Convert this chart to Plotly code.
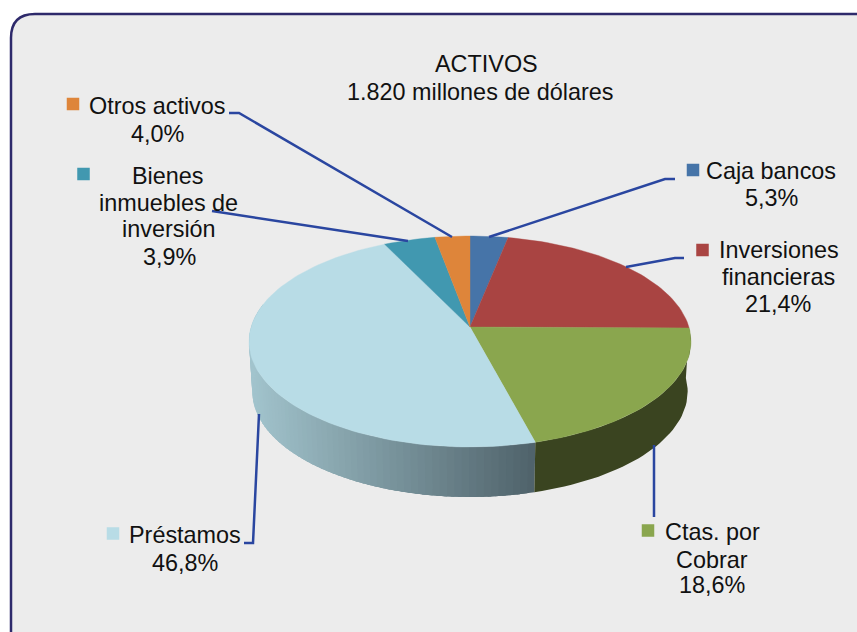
import math
import plotly.graph_objects as go

# ---- data ----
categories = ["Caja bancos", "Inversiones financieras", "Ctas. por Cobrar",
              "Préstamos", "Bienes inmuebles de inversión", "Otros activos"]
values = [5.3, 21.4, 18.6, 46.8, 3.9, 4.0]
top_colors = ["#4674a8", "#a94442", "#8aa64e", "#b8dce6", "#4198b0", "#de853a"]
title_lines = ["ACTIVOS", "1.820 millones de dólares"]

# ---- pie projection (tilted disc with perspective) ----
CX, CY, RX, RY, K = 470, 327, 218.9, 103.5, 0.1375
DEPTH, BOTTOM_SCALE = 50, 0.985
# the reference's drawing squeezes the angles a little: nominal -> drawn (degrees)
WARP_IN = [0, 19.08, 96.12, 163.08, 331.56, 345.6, 360]
WARP_OUT = [0, 11.4, 90.5, 165, 334, 349.5, 360]


def warp(deg):
    for i in range(len(WARP_IN) - 1):
        if deg <= WARP_IN[i + 1]:
            f = (deg - WARP_IN[i]) / (WARP_IN[i + 1] - WARP_IN[i])
            return WARP_OUT[i] + f * (WARP_OUT[i + 1] - WARP_OUT[i])
    return deg


def project(pct, bottom=False):
    theta = math.radians(warp(pct * 3.6))
    u, v = math.sin(theta), -math.cos(theta)
    s = 1 / (1 - K * v)
    x, y = RX * u * s, RY * v * s
    if bottom:
        return CX + x * BOTTOM_SCALE, CY + y + DEPTH
    return CX + x, CY + y


def arc(a0, a1, bottom=False):
    n = max(2, int(abs(a1 - a0) * 2.2))
    return [project(a0 + (a1 - a0) * i / n, bottom) for i in range(n + 1)]


def poly(pts, color, lw=0.0):
    xs = [p[0] for p in pts] + [pts[0][0]]
    ys = [p[1] for p in pts] + [pts[0][1]]
    return go.Scatter(x=xs, y=ys, mode="lines", fill="toself", fillcolor=color,
                      line=dict(color=color, width=lw), hoverinfo="skip", showlegend=False)


fig = go.Figure()

starts, acc = [], 0.0
for v in values:
    starts.append(acc)
    acc += v

# side walls
ctas, prest = 2, 3
LIGHT, DARK = (162, 196, 205), (79, 98, 106)
a0, a1 = starts[prest], 78.0
BANDS = 70
for i in range(BANDS):
    b0 = a0 + (a1 - a0) * i / BANDS
    b1 = min(a1, a0 + (a1 - a0) * (i + 2.5) / BANDS)
    xm = project(a0 + (a1 - a0) * (i + 0.5) / BANDS)[0]
    t = min(1, max(0, (xm - 250) / (535 - 250)))
    c = [round(LIGHT[j] + (DARK[j] - LIGHT[j]) * t) for j in range(3)]
    col = f"rgb({c[0]},{c[1]},{c[2]})"
    fig.add_trace(poly(arc(b0, b1) + arc(b0, b1, True)[::-1], col))
top = arc(starts[ctas], starts[ctas] + values[ctas])
bot = arc(starts[ctas], starts[ctas] + values[ctas], True)
fig.add_trace(poly(top + bot[::-1], "#3a4420"))

# top faces
for s, v, col in zip(starts, values, top_colors):
    fig.add_trace(poly([(CX, CY)] + arc(s, s + v), col, 0.4))

# leader lines
leaders = [
    ([229, 239, 452], [113, 113, 237]),
    ([212, 408], [211, 241]),
    ([675, 665, 489], [179, 179, 237]),
    ([684, 675, 626], [258, 258, 267]),
    ([244, 253, 259], [543, 543, 414]),
    ([654, 654], [517, 445]),
]
for lx, ly in leaders:
    fig.add_trace(go.Scatter(x=lx, y=ly, mode="lines", line=dict(color="#2a46a0", width=2.5),
                             hoverinfo="skip", showlegend=False))

# legend keys
key_x = [693, 702.5, 648, 113, 83.5, 73]
key_y = [170, 250, 530.5, 533.5, 174, 104]
fig.add_trace(go.Scatter(x=key_x, y=key_y, mode="markers",
                         marker=dict(symbol="square", size=12.5, color=top_colors, line=dict(width=0)),
                         hoverinfo="skip", showlegend=False))

# text
labels = [
    (title_lines[0], 486, 64), (title_lines[1], 480, 92),
    ("Otros activos", 157, 106), ("4,0%", 157, 134),
    ("Bienes", 168, 176), ("inmuebles de", 168, 203), ("inversión", 169, 229), ("3,9%", 169, 257),
    ("Caja bancos", 771, 171), ("5,3%", 771, 198),
    ("Inversiones", 779, 250), ("financieras", 778, 277), ("21,4%", 778, 304),
    ("Préstamos", 185, 535), ("46,8%", 185, 563),
    ("Ctas. por", 712, 532), ("Cobrar", 712, 560), ("18,6%", 712, 585),
]
annotations = [dict(x=x, y=y, text=t, showarrow=False, xanchor="center", yanchor="middle",
                    font=dict(family="Liberation Sans", size=23.4, color="#111111"))
               for t, x, y in labels]

L, T, Rr, B, r = 11, 14, 880, 660, 24
frame = (f"M{L},{T + r} Q{L},{T} {L + r},{T} L{Rr - r},{T} Q{Rr},{T} {Rr},{T + r} "
         f"L{Rr},{B - r} Q{Rr},{B} {Rr - r},{B} L{L + r},{B} Q{L},{B} {L},{B - r} Z")

fig.update_layout(
    width=857, height=632, autosize=False,
    margin=dict(l=0, r=0, t=0, b=0),
    paper_bgcolor="white", plot_bgcolor="white",
    xaxis=dict(range=[0, 857], visible=False, fixedrange=True),
    yaxis=dict(range=[632, 0], visible=False, fixedrange=True),
    shapes=[dict(type="path", path=frame, xref="x", yref="y", layer="below",
                 fillcolor="#ececec", line=dict(color="#2e2a6b", width=2.5))],
    annotations=annotations,
    showlegend=False,
)
fig.write_html("out.html", config=dict(displayModeBar=False),
               post_script="document.body.style.margin='0';document.documentElement.style.overflow='hidden';")
